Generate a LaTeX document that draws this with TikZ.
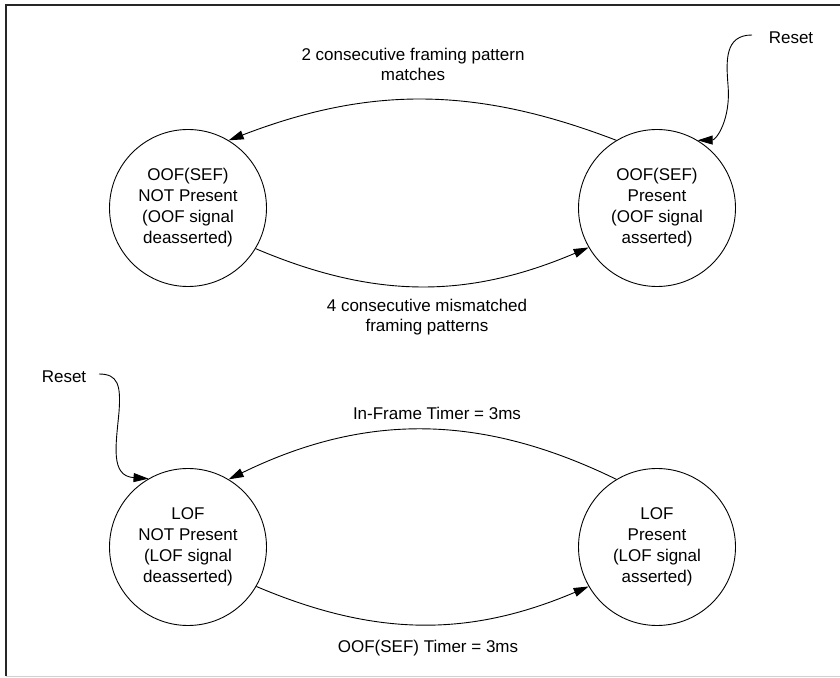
\documentclass[tikz,border=0pt]{standalone}
\usepackage{fontspec}
\setmainfont{Liberation Sans}
\usetikzlibrary{arrows.meta}
\begin{document}
\begin{tikzpicture}[x=1pt,y=1pt,
  state/.style={circle, draw, line width=0.9pt, minimum size=157pt, inner sep=0pt,
                align=center, font=\fontsize{17}{21}\selectfont},
  trans/.style={line width=0.9pt, -{Triangle[length=15pt,width=9pt]}},
  lbl/.style={align=center, inner sep=0pt, font=\fontsize{17}{19.5}\selectfont}]
\useasboundingbox (0,0) rectangle (840,677);

% outer frame
\draw[line width=1.8pt, black!85] (6,1) -- (6,672) -- (840,672);
\draw[line width=1pt, black!18] (6,1) -- (840,1);

% OOF state machine
\node[state] (oofn) at (188,469) {OOF(SEF)\\NOT Present\\(OOF signal\\deasserted)};
\node[state] (oofp) at (657,469) {OOF(SEF)\\Present\\(OOF signal\\asserted)};

% LOF state machine
\node[state] (lofn) at (188,130) {LOF\\NOT Present\\(LOF signal\\deasserted)};
\node[state] (lofp) at (657,130) {LOF\\Present\\(LOF signal\\asserted)};

% transitions
\draw[trans] (oofp.121) to[out=159,in=21] (oofn.59);
\draw[trans] (oofn.-31) to[out=-23,in=203] (oofp.210);
\draw[trans] (lofp.121) to[out=154,in=26] (lofn.59);
\draw[trans] (lofn.-30) to[out=-23,in=203] (lofp.210);

% transition labels
\node[lbl] (l1) at (413,612.5) {2 consecutive framing pattern\\matches};
\node[lbl] (l2) at (427,360) {4 consecutive mismatched\\framing patterns};
\node[lbl, anchor=base] (l3) at (437,257) {In-Frame Timer = 3ms};
\node[lbl, anchor=base] (l4) at (428,24) {OOF(SEF) Timer = 3ms};

% reset entries
\node[lbl, anchor=base] (rst1) at (791,633) {Reset};
\node[lbl, anchor=base] (rst2) at (64,294.3) {Reset};
\coordinate (r1) at (752,642);
\coordinate (r2) at (99,303);
\draw[trans] (r1) .. controls (725,642) and (726,617) .. (728,592)
                  .. controls (731,557) and (716,537) .. (oofp.59);
\draw[trans] (r2) .. controls (118,303) and (121,292) .. (119,265)
                  .. controls (116,232) and (110,201) .. (lofn.120);
\end{tikzpicture}
\end{document}
